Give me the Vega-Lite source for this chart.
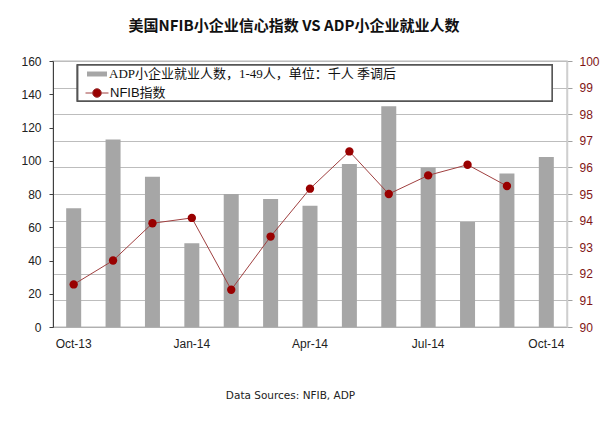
{
  "$schema": "https://vega.github.io/schema/vega-lite/v6.json",
  "description": "NFIB small business optimism index vs ADP small business employment change",
  "width": 514,
  "height": 266,
  "autosize": {"type": "none"},
  "padding": {"left": 53, "top": 61, "right": 41, "bottom": 97},
  "background": "white",
  "title": {
    "text": "美国NFIB小企业信心指数 VS ADP小企业就业人数",
    "font": "Noto Sans CJK SC",
    "fontSize": 15,
    "fontWeight": "bold",
    "color": "#111111",
    "anchor": "middle",
    "dx": -16,
    "offset": 21
  },
  "data": {
    "values": [
      {"month": "Oct-13", "adp": 71.4, "nfib": 91.6},
      {"month": "Nov-13", "adp": 112.8, "nfib": 92.5},
      {"month": "Dec-13", "adp": 90.4, "nfib": 93.9},
      {"month": "Jan-14", "adp": 50.4, "nfib": 94.1},
      {"month": "Feb-14", "adp": 80, "nfib": 91.4},
      {"month": "Mar-14", "adp": 77, "nfib": 93.4},
      {"month": "Apr-14", "adp": 73, "nfib": 95.2},
      {"month": "May-14", "adp": 98, "nfib": 96.6},
      {"month": "Jun-14", "adp": 132.8, "nfib": 95.0},
      {"month": "Jul-14", "adp": 96, "nfib": 95.7},
      {"month": "Aug-14", "adp": 63.2, "nfib": 96.1},
      {"month": "Sep-14", "adp": 92.4, "nfib": 95.3},
      {"month": "Oct-14", "adp": 102.2, "nfib": null}
    ]
  },
  "layer": [
    {
      "mark": {"type": "bar", "width": 15},
      "encoding": {
        "x": {
          "field": "month",
          "type": "nominal",
          "sort": null,
          "scale": {"type": "band", "paddingInner": 0.62, "paddingOuter": 0.335},
          "axis": {
            "values": ["Oct-13", "Jan-14", "Apr-14", "Jul-14", "Oct-14"],
            "labelAngle": 0,
            "labelFont": "Liberation Sans",
            "labelFontSize": 12,
            "labelColor": "#222222",
            "labelPadding": 11,
            "ticks": false,
            "domainColor": "#b0b0b0",
            "title": "Data Sources: NFIB, ADP",
            "titleFont": "DejaVu Sans",
            "titleFontSize": 10.5,
            "titleFontWeight": "normal",
            "titleColor": "#222222",
            "titleX": 237,
            "titleY": 68,
            "titleBaseline": "middle"
          }
        },
        "y": {
          "field": "adp",
          "type": "quantitative",
          "scale": {"domain": [0, 160]},
          "axis": {
            "orient": "left",
            "values": [0, 20, 40, 60, 80, 100, 120, 140, 160],
            "grid": false,
            "title": null,
            "domainColor": "#404040",
            "tickColor": "#404040",
            "tickSize": 4,
            "labelPadding": 8,
            "labelFont": "Liberation Sans",
            "labelFontSize": 12,
            "labelColor": "#222222"
          }
        },
        "fill": {
          "datum": "ADP小企业就业人数，1-49人，单位：千人 季调后",
          "scale": {"range": ["#a6a6a6"]},
          "legend": {
            "orient": "none",
            "legendX": 34,
            "legendY": 3,
            "padding": 0,
            "title": null,
            "symbolType": "M-1,-0.25H1V0.25H-1Z",
            "symbolSize": 400,
            "symbolStrokeWidth": 0,
            "labelOffset": 2,
            "labelFont": "Liberation Serif, Noto Sans CJK SC",
            "labelFontSize": 13,
            "labelColor": "#111111",
            "labelLimit": 400
          }
        }
      }
    },
    {
      "mark": {"type": "rect", "fill": "white", "stroke": "#555555", "strokeWidth": 1.5},
      "encoding": {
        "x": {"datum": 0.048, "type": "quantitative", "scale": {"domain": [0, 1]}, "axis": null},
        "x2": {"datum": 0.971},
        "y": {"datum": 157.6, "type": "quantitative", "scale": {"domain": [0, 160]}, "axis": null},
        "y2": {"datum": 135.9}
      }
    },
    {
      "encoding": {
        "x": {
          "field": "month",
          "type": "nominal",
          "sort": null,
          "scale": {"type": "band", "paddingInner": 0.62, "paddingOuter": 0.335},
          "axis": null
        },
        "y": {
          "field": "nfib",
          "type": "quantitative",
          "scale": {"domain": [90, 100]},
          "axis": {
            "orient": "right",
            "values": [90, 91, 92, 93, 94, 95, 96, 97, 98, 99, 100],
            "grid": true,
            "gridColor": "#bdbdbd",
            "gridWidth": 1,
            "title": null,
            "domainColor": "#cfcfcf",
            "domainWidth": 1.5,
            "tickColor": "#a0a0a0",
            "tickSize": 5,
            "labelPadding": 7,
            "labelFont": "Liberation Sans",
            "labelFontSize": 12,
            "labelColor": "#7f1515"
          }
        }
      },
      "layer": [
        {
          "mark": {"type": "line", "strokeWidth": 1, "color": "#a04040"},
          "encoding": {
            "stroke": {
              "datum": "NFIB指数",
              "scale": {"range": ["#a04040"]},
              "legend": {
                "orient": "none",
                "legendX": 32,
                "legendY": 20,
                "padding": 0,
                "title": null,
                "symbolType": "M-1,0H-0.38M0.38,0H1M-0.38,0A0.38,0.38 0 1,0 0.38,0A0.38,0.38 0 1,0 -0.38,0Z",
                "symbolSize": 529,
                "symbolStrokeWidth": 1,
                "symbolFillColor": "#990000",
                "labelOffset": 1,
                "labelFont": "Liberation Sans, Noto Sans CJK SC",
                "labelFontSize": 13,
                "labelColor": "#111111"
              }
            }
          }
        },
        {
          "mark": {"type": "point", "filled": true, "size": 70, "color": "#990000", "opacity": 1}
        }
      ]
    }
  ],
  "resolve": {"scale": {"x": "independent", "y": "independent"}},
  "config": {
    "view": {"stroke": "#d0d0d0", "strokeWidth": 1.5}
  }
}
